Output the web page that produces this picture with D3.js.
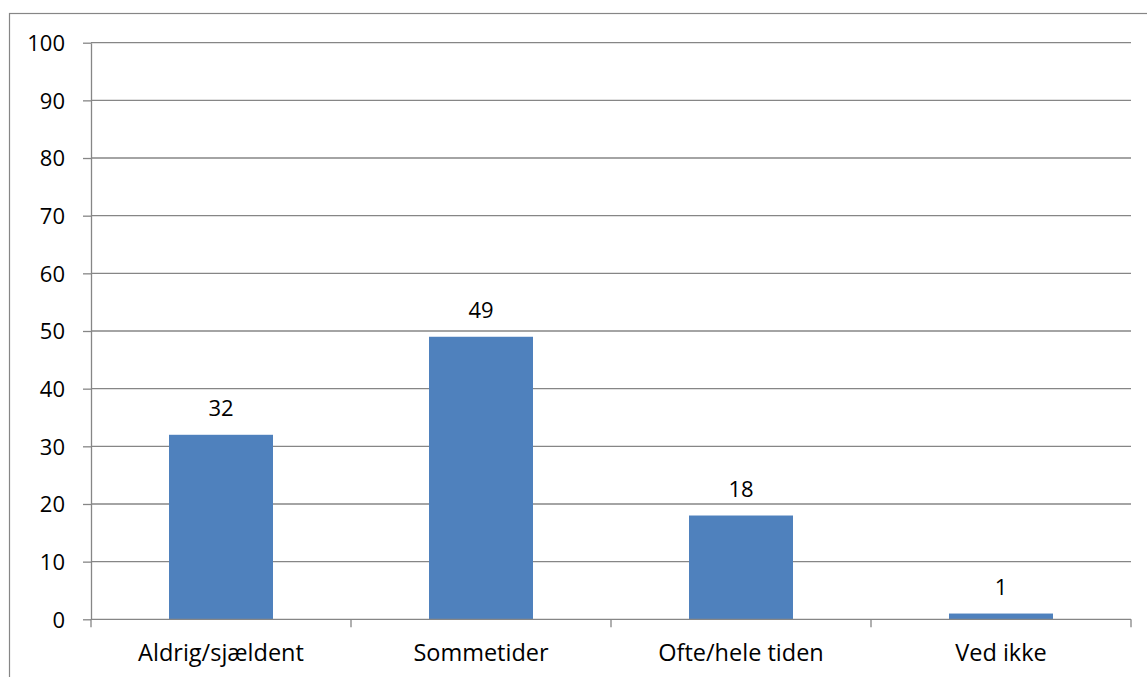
<!DOCTYPE html>
<html lang="da">
<head>
  <meta charset="utf-8">
  <title>Aldrig / Sommetider / Ofte</title>
  <script src="https://d3js.org/d3.v7.min.js"></script>
  <style>
    body { margin: 0; background: #fff; }
    text { font-family: "Open Sans", "Noto Sans", sans-serif; fill: #000; }
  </style>
</head>
<body>
<div id="chart"></div>
<script>
  // data
  var categories = ["Aldrig/sjældent", "Sommetider", "Ofte/hele tiden", "Ved ikke"];
  var values = [32, 49, 18, 1];
  var yTicks = [0, 10, 20, 30, 40, 50, 60, 70, 80, 90, 100];

  (function () {
    var W = 1147, H = 677;
    var plotLeft = 91, plotRight = 1131, plotTop = 42.7, plotBottom = 619.3;

    var svg = d3.select("#chart").append("svg")
      .attr("width", W).attr("height", H);

    // outer chart border (cropped at right/bottom)
    svg.append("rect")
      .attr("x", 9.5).attr("y", 13.5)
      .attr("width", W + 20).attr("height", H + 20)
      .attr("fill", "#fff").attr("stroke", "#868686").attr("stroke-width", 1.2);

    var x = d3.scaleBand()
      .domain(categories)
      .range([plotLeft, plotRight])
      .paddingInner(0.6)
      .paddingOuter(0.3);

    var y = d3.scaleLinear()
      .domain([0, 100])
      .range([plotBottom, plotTop]);

    // gridlines
    svg.append("g").selectAll("line")
      .data(yTicks.filter(function (d) { return d > 0; }))
      .enter().append("line")
      .attr("x1", plotLeft).attr("x2", plotRight)
      .attr("y1", function (d) { return y(d); })
      .attr("y2", function (d) { return y(d); })
      .attr("stroke", "#868686").attr("stroke-width", 1.3);

    // y axis
    var yAxis = svg.append("g")
      .attr("transform", "translate(" + plotLeft + ",0)")
      .call(d3.axisLeft(y).tickValues(yTicks).tickSize(8).tickPadding(18).tickSizeOuter(0));
    yAxis.select(".domain").attr("stroke", "#868686").attr("stroke-width", 1.3);
    yAxis.selectAll(".tick line").attr("stroke", "#868686").attr("stroke-width", 1.3);
    yAxis.selectAll(".tick text")
      .attr("font-size", 22).attr("font-family", "Open Sans").attr("fill", "#000").attr("dy", "0.36em");

    // bars
    svg.append("g").selectAll("rect")
      .data(values)
      .enter().append("rect")
      .attr("x", function (d, i) { return x(categories[i]); })
      .attr("width", x.bandwidth())
      .attr("y", function (d) { return y(d); })
      .attr("height", function (d) { return y(0) - y(d); })
      .attr("fill", "#4F81BD");

    // value labels
    svg.append("g").selectAll("text")
      .data(values)
      .enter().append("text")
      .attr("x", function (d, i) { return x(categories[i]) + x.bandwidth() / 2; })
      .attr("y", function (d) { return y(d) - 19; })
      .attr("text-anchor", "middle")
      .attr("font-size", 22)
      .text(function (d) { return d; });

    // x axis line + boundary ticks
    var gap = (x.step() - x.bandwidth()) / 2;
    var bounds = categories.map(function (c) { return x(c) - gap; });
    bounds.push(x(categories[categories.length - 1]) + x.bandwidth() + gap);

    var xg = svg.append("g");
    xg.append("line")
      .attr("x1", plotLeft).attr("x2", plotRight)
      .attr("y1", y(0)).attr("y2", y(0))
      .attr("stroke", "#868686").attr("stroke-width", 1.3);
    xg.selectAll("line.tk")
      .data(bounds)
      .enter().append("line")
      .attr("class", "tk")
      .attr("x1", function (d) { return d; }).attr("x2", function (d) { return d; })
      .attr("y1", y(0)).attr("y2", y(0) + 8)
      .attr("stroke", "#868686").attr("stroke-width", 1.3);
    xg.selectAll("text")
      .data(categories)
      .enter().append("text")
      .attr("x", function (d) { return x(d) + x.bandwidth() / 2; })
      .attr("y", 661)
      .attr("text-anchor", "middle")
      .attr("font-size", 23.5)
      .text(function (d) { return d; });
  })();
</script>
</body>
</html>
